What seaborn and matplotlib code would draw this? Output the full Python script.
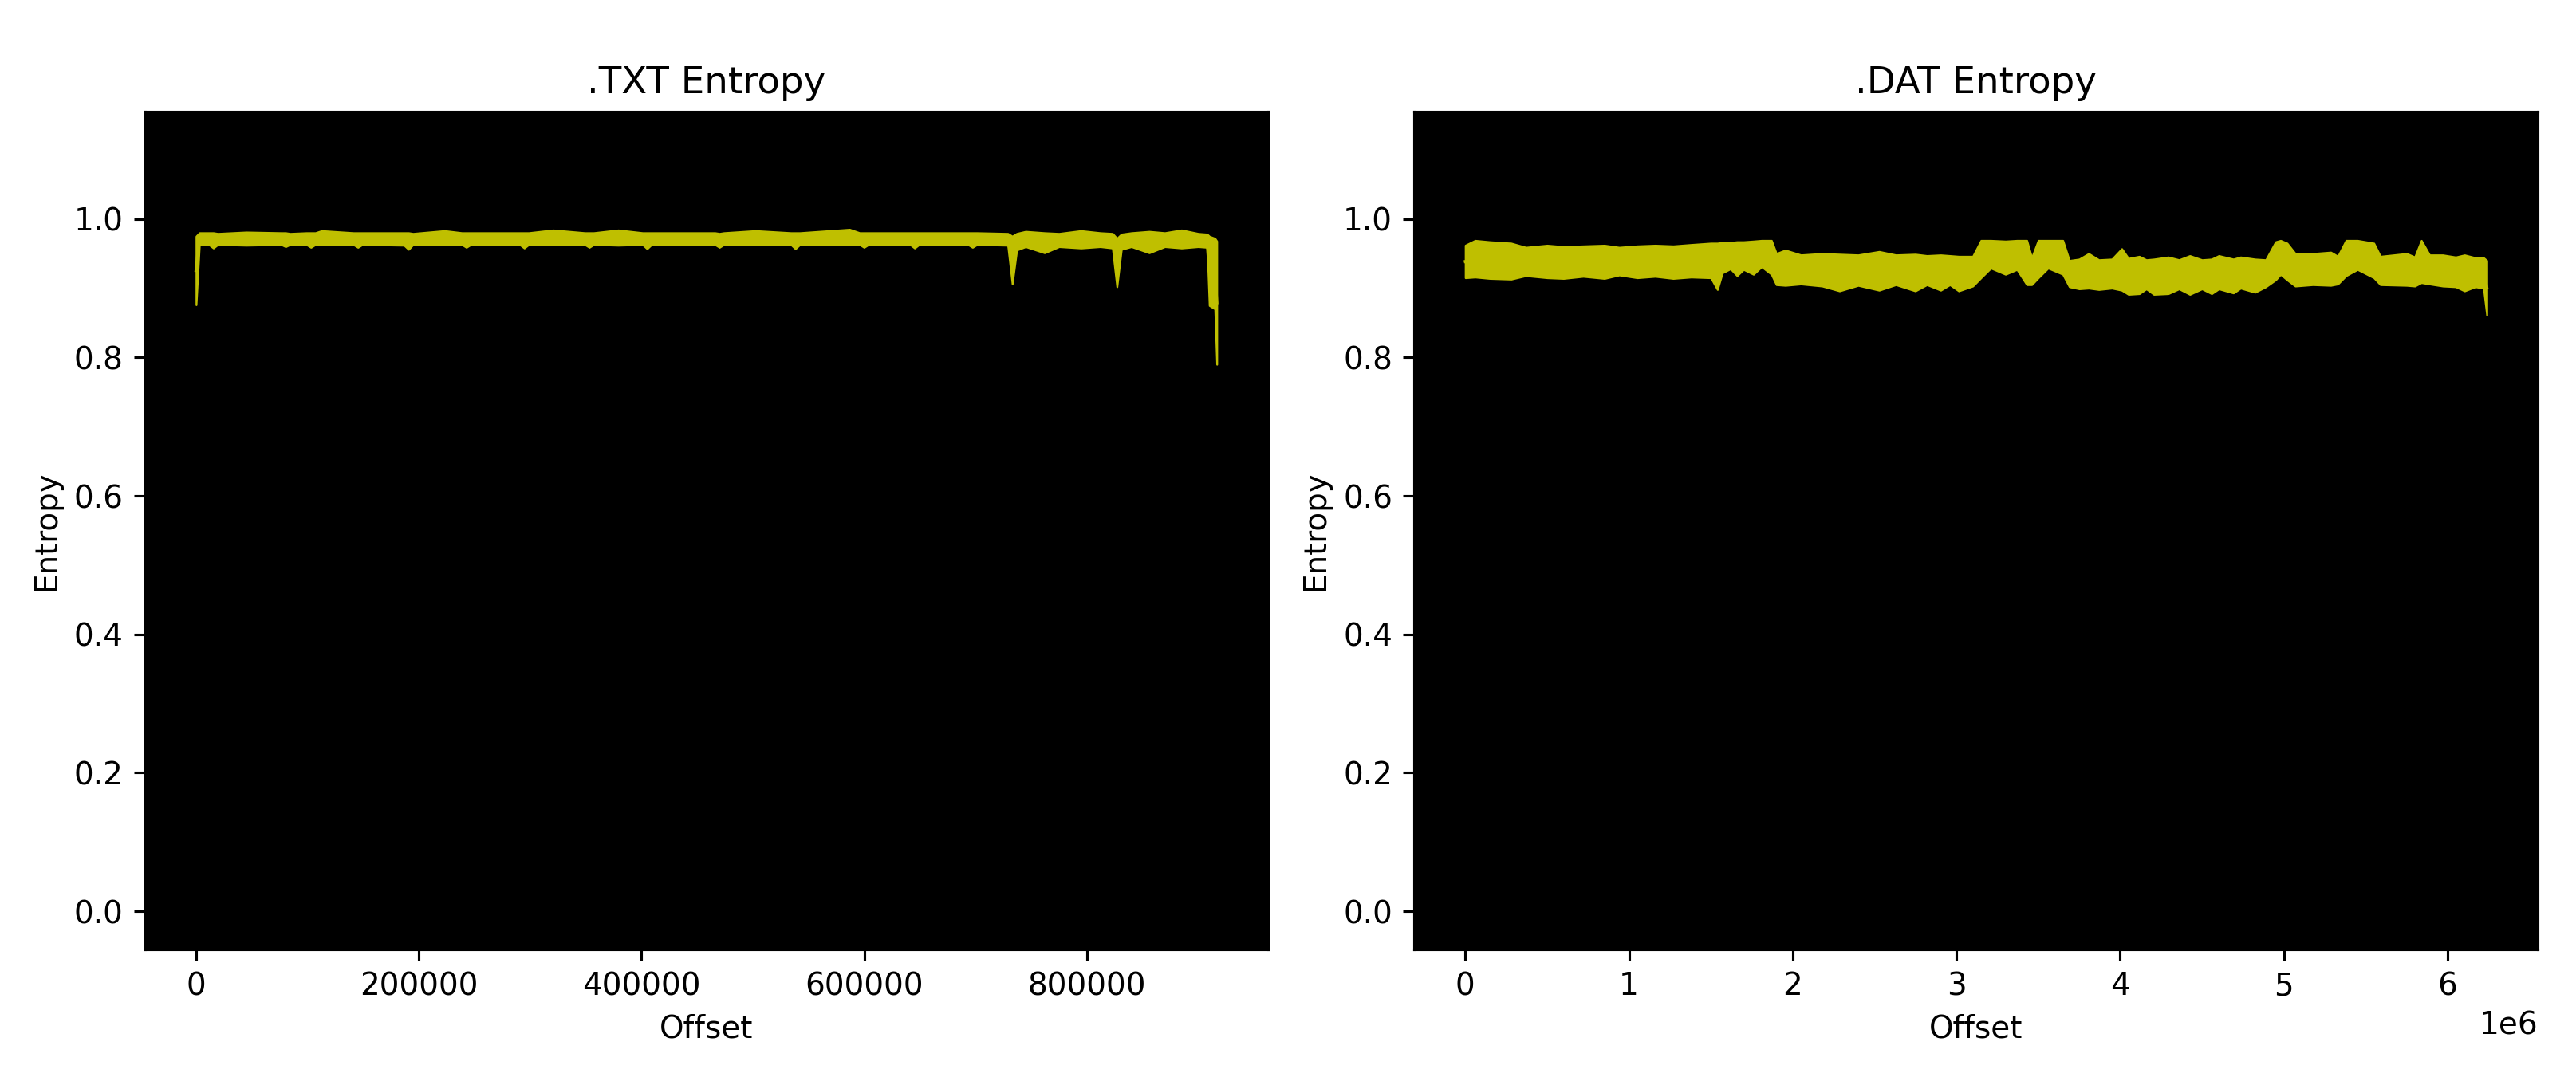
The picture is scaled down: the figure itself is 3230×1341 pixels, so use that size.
import matplotlib
matplotlib.use("Agg")
import matplotlib.pyplot as plt
import seaborn as sns
import pandas as pd

# .TXT file: offset -> entropy band (min / max of the window values)
txt_offset = [0, 3000, 11500, 15500, 19500, 45000, 76400, 80400, 84400, 99100,
              103100, 107100, 112800, 141300, 145300, 149300, 186800, 190800, 194800, 223200,
              238700, 242700, 246700, 290700, 294700, 298700, 320600, 349100, 353100, 357100,
              379100, 401000, 405000, 409000, 466000, 470000, 474000, 502400, 534200, 538200,
              542200, 586900, 595900, 599900, 603900, 641300, 645300, 649300, 693300, 697300,
              701300, 729000, 733000, 737000, 745000, 762000, 775000, 794700, 812000, 823000,
              827000, 831000, 840000, 856000, 870000, 885000, 900000, 908000, 910000, 915000,
              916700]
txt_low = [0.876, 0.963, 0.963, 0.958, 0.963, 0.962, 0.963, 0.960, 0.963, 0.963,
           0.959, 0.963, 0.963, 0.963, 0.959, 0.963, 0.962, 0.956, 0.963, 0.963,
           0.963, 0.959, 0.963, 0.963, 0.958, 0.963, 0.963, 0.963, 0.959, 0.963,
           0.962, 0.963, 0.957, 0.963, 0.963, 0.959, 0.963, 0.963, 0.963, 0.957,
           0.963, 0.963, 0.963, 0.959, 0.963, 0.963, 0.958, 0.963, 0.963, 0.959,
           0.963, 0.962, 0.906, 0.955, 0.960, 0.951, 0.960, 0.958, 0.960, 0.958,
           0.902, 0.956, 0.960, 0.951, 0.960, 0.958, 0.960, 0.959, 0.875, 0.870,
           0.790]
txt_high = [0.975, 0.980, 0.980, 0.980, 0.979, 0.981, 0.980, 0.980, 0.979, 0.980,
            0.980, 0.980, 0.983, 0.980, 0.980, 0.980, 0.980, 0.980, 0.979, 0.983,
            0.980, 0.980, 0.980, 0.980, 0.980, 0.980, 0.984, 0.980, 0.980, 0.980,
            0.984, 0.980, 0.980, 0.980, 0.980, 0.979, 0.980, 0.983, 0.980, 0.980,
            0.980, 0.985, 0.980, 0.980, 0.980, 0.980, 0.980, 0.980, 0.980, 0.980,
            0.980, 0.979, 0.975, 0.979, 0.982, 0.980, 0.979, 0.983, 0.980, 0.979,
            0.972, 0.978, 0.980, 0.982, 0.980, 0.984, 0.979, 0.978, 0.975, 0.972,
            0.968]

# .DAT file: offset (x1e6) -> entropy band
dat_offset = [0.00, 0.06, 0.15, 0.28, 0.37, 0.50, 0.60, 0.72, 0.85, 0.94,
              1.05, 1.16, 1.27, 1.38, 1.50, 1.54, 1.57, 1.62, 1.66, 1.70,
              1.76, 1.81, 1.87, 1.90, 1.955, 2.05, 2.18, 2.286, 2.40, 2.528,
              2.63, 2.749, 2.82, 2.904, 2.96, 3.014, 3.10, 3.15, 3.21, 3.30,
              3.37, 3.43, 3.46, 3.50, 3.56, 3.65, 3.69, 3.75, 3.808, 3.87,
              3.95, 4.01, 4.051, 4.117, 4.16, 4.206, 4.294, 4.36, 4.426, 4.50,
              4.559, 4.603, 4.692, 4.736, 4.824, 4.89, 4.95, 4.98, 5.02, 5.07,
              5.177, 5.287, 5.33, 5.38, 5.45, 5.55, 5.59, 5.751, 5.80, 5.84,
              5.89, 5.971, 6.05, 6.104, 6.17, 6.22, 6.24]
dat_low = [0.915, 0.916, 0.914, 0.913, 0.918, 0.915, 0.914, 0.917, 0.914, 0.919,
           0.915, 0.917, 0.914, 0.916, 0.915, 0.898, 0.922, 0.928, 0.918, 0.927,
           0.920, 0.931, 0.920, 0.905, 0.904, 0.906, 0.903, 0.896, 0.904, 0.897,
           0.905, 0.896, 0.905, 0.897, 0.905, 0.896, 0.903, 0.915, 0.929, 0.920,
           0.927, 0.905, 0.905, 0.915, 0.929, 0.920, 0.902, 0.899, 0.900, 0.898,
           0.900, 0.897, 0.891, 0.892, 0.899, 0.891, 0.892, 0.899, 0.891, 0.899,
           0.892, 0.899, 0.893, 0.900, 0.894, 0.902, 0.912, 0.920, 0.912, 0.903,
           0.905, 0.904, 0.906, 0.918, 0.927, 0.915, 0.905, 0.904, 0.903, 0.908,
           0.906, 0.903, 0.902, 0.896, 0.902, 0.900, 0.861]
dat_high = [0.962, 0.969, 0.967, 0.965, 0.959, 0.962, 0.960, 0.961, 0.962, 0.959,
            0.961, 0.962, 0.961, 0.963, 0.965, 0.965, 0.966, 0.966, 0.967, 0.967,
            0.968, 0.969, 0.969, 0.950, 0.955, 0.948, 0.950, 0.949, 0.948, 0.953,
            0.948, 0.949, 0.947, 0.948, 0.947, 0.946, 0.946, 0.969, 0.969, 0.968,
            0.969, 0.969, 0.944, 0.969, 0.969, 0.969, 0.940, 0.942, 0.950, 0.941,
            0.942, 0.957, 0.943, 0.946, 0.941, 0.942, 0.945, 0.941, 0.947, 0.941,
            0.942, 0.947, 0.942, 0.945, 0.942, 0.941, 0.967, 0.969, 0.965, 0.950,
            0.950, 0.952, 0.946, 0.969, 0.969, 0.965, 0.946, 0.950, 0.945, 0.969,
            0.948, 0.948, 0.945, 0.948, 0.944, 0.944, 0.940]


def long_form(offset, low, high, scale=1.0):
    rows = {"offset": [], "entropy": []}
    for o, lo, hi in zip(offset, low, high):
        rows["offset"] += [o * scale, o * scale]
        rows["entropy"] += [lo, hi]
    return pd.DataFrame(rows)


df_txt = long_form(txt_offset, txt_low, txt_high)
df_dat = long_form(dat_offset, dat_low, dat_high, scale=1e6)

fig = plt.figure(figsize=(3230 / 280, 1341 / 280), dpi=280)
ax1 = fig.add_axes([0.0563, 0.1119, 0.436, 0.7837])
ax2 = fig.add_axes([0.549, 0.1119, 0.4362, 0.7837])

for ax, df, title in [(ax1, df_txt, ".TXT Entropy"), (ax2, df_dat, ".DAT Entropy")]:
    # band = min..max of each window, line = mean
    sns.lineplot(data=df, x="offset", y="entropy", estimator="mean", errorbar=("pi", 100),
                 color="y", linewidth=1.0, err_kws={"alpha": 1, "linewidth": 0.6}, ax=ax)
    ax.set_facecolor("black")
    ax.set_ylim(-0.055, 1.155)
    ax.set_title(title)
    ax.set_xlabel("Offset")
    ax.set_ylabel("Entropy")

ax1.set_xlim(-45850, 962850)
ax2.set_xlim(-0.312e6, 6.552e6)

fig.savefig("out.png", dpi=280)
